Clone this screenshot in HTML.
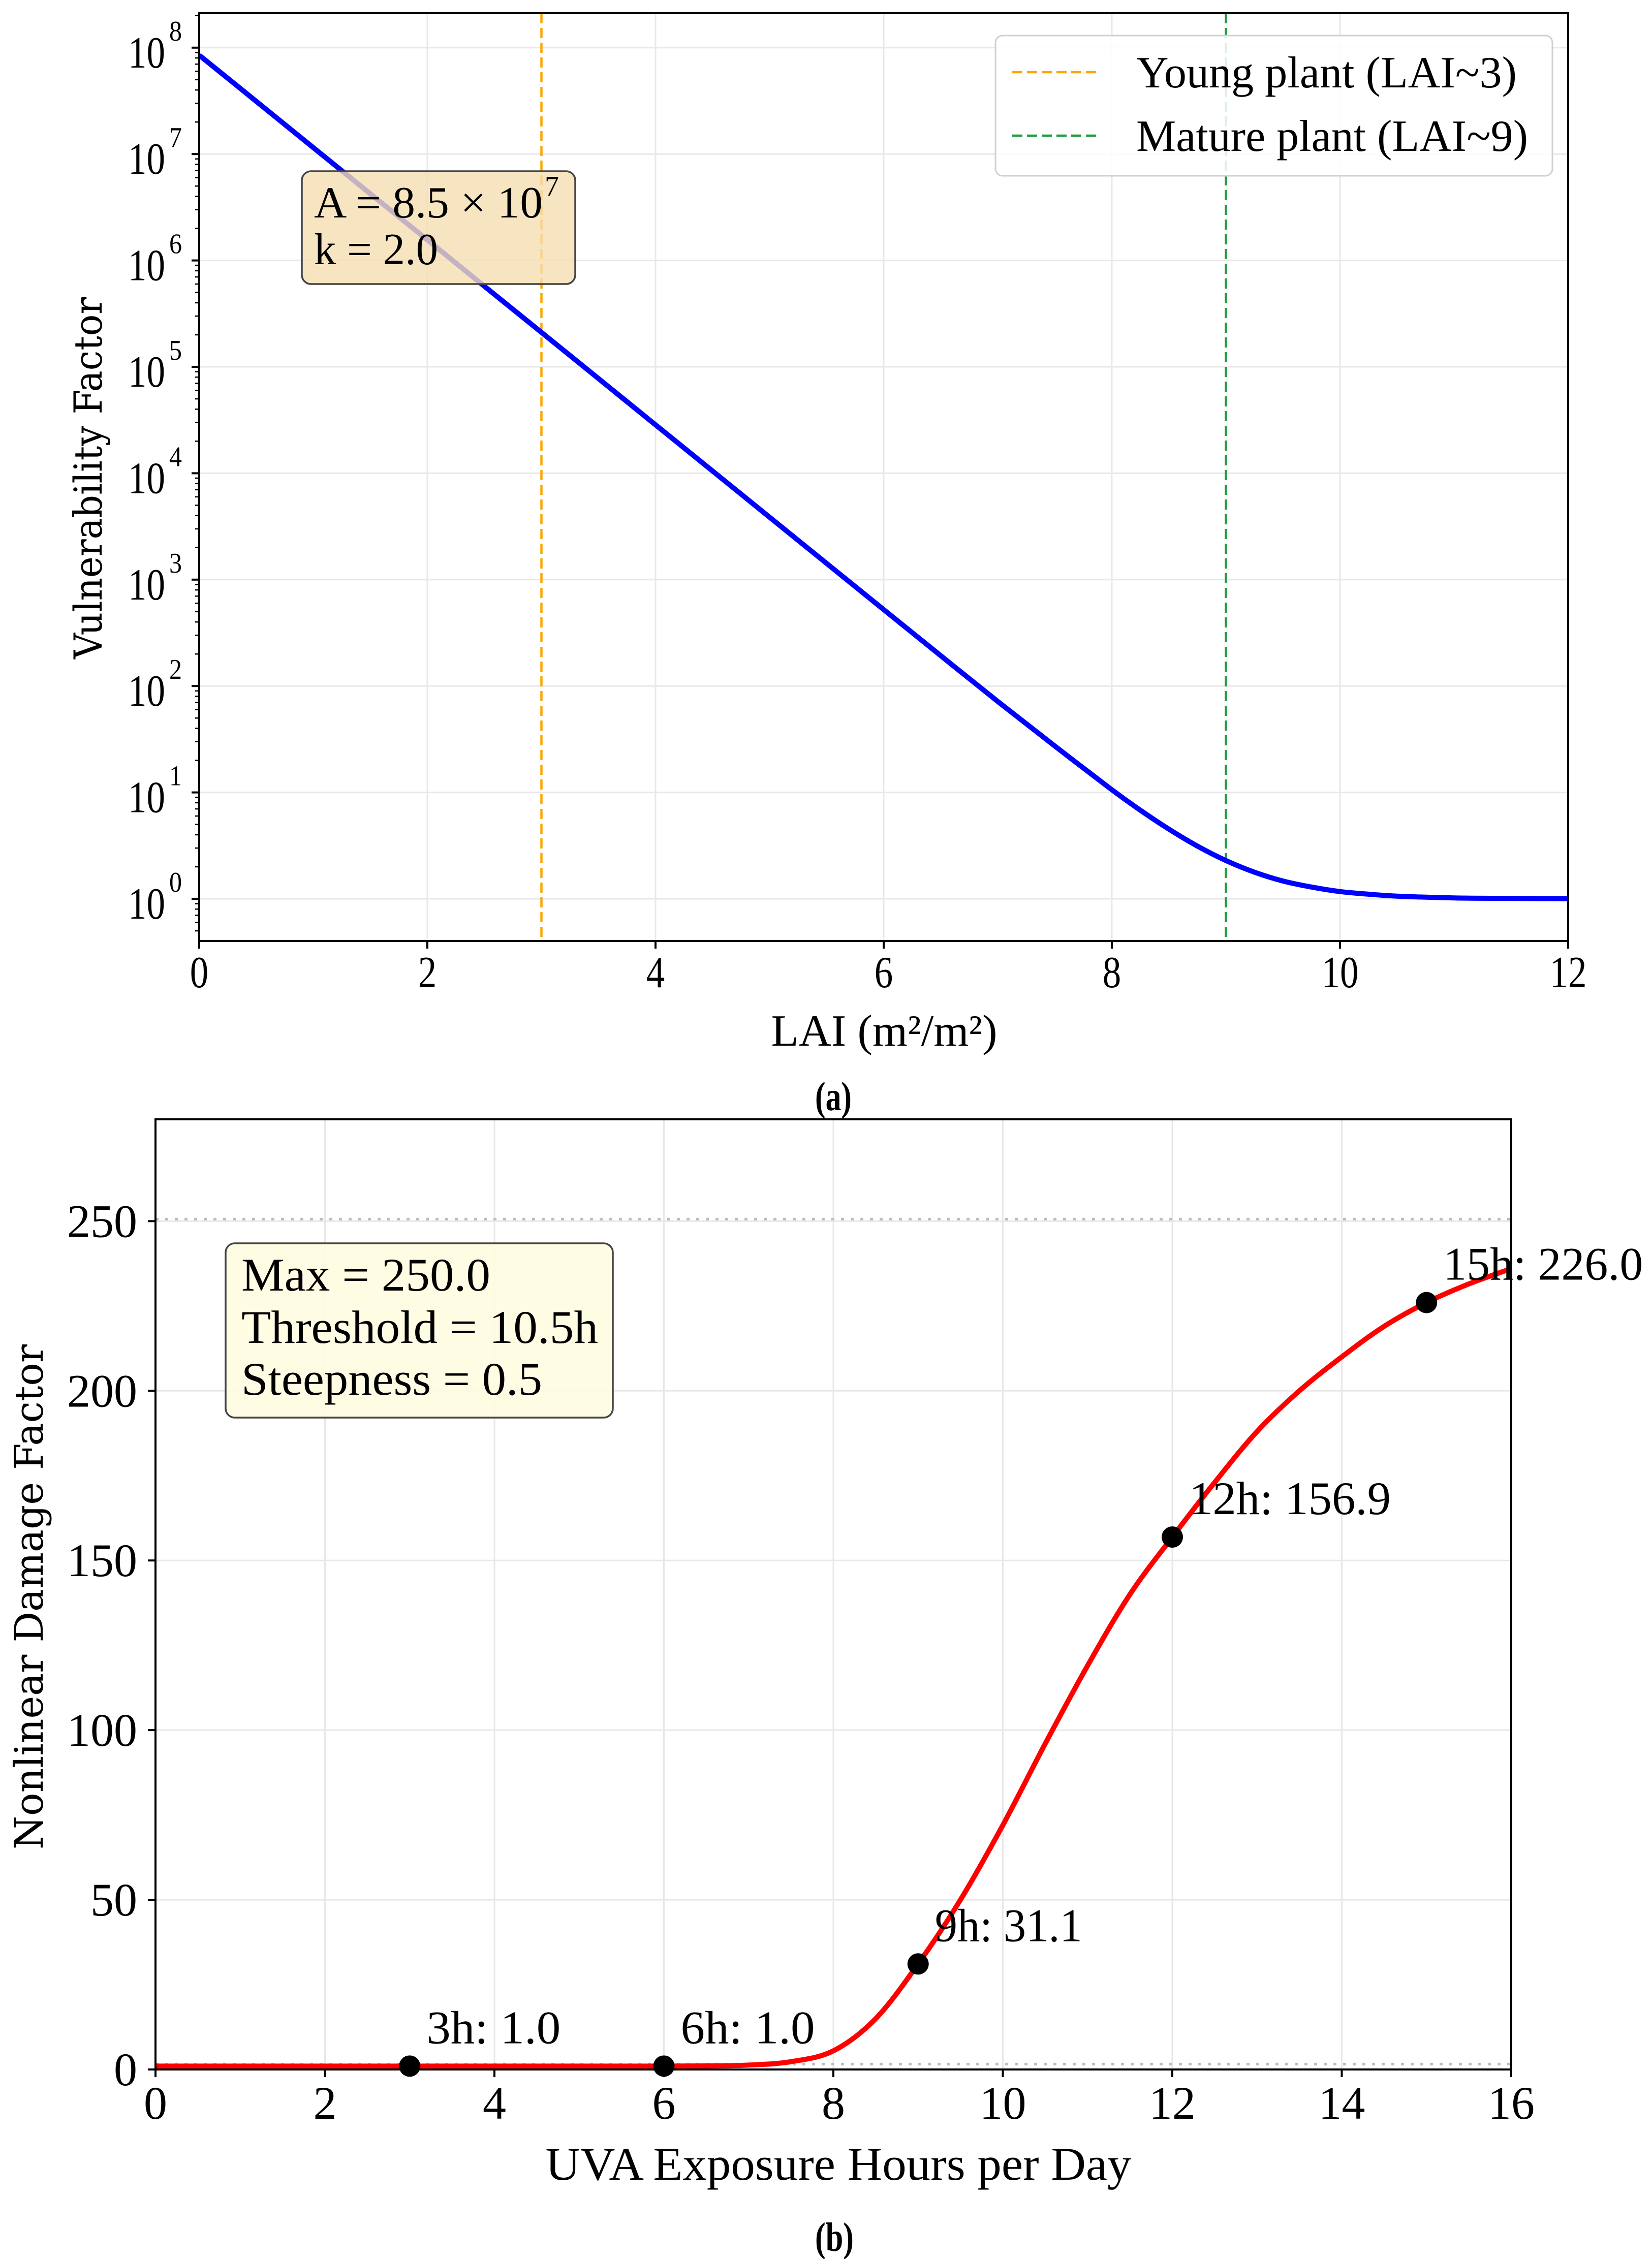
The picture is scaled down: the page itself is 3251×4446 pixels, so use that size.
<!DOCTYPE html>
<html><head><meta charset="utf-8"><style>
html,body{margin:0;padding:0;background:#fff;}
svg{display:block;}
text{font-family:"Liberation Serif","DejaVu Serif",serif;fill:#000;}
.dv{font-family:"DejaVu Serif","Liberation Serif",serif;}
</style></head>
<body>
<svg id="fig" width="3251" height="4446" viewBox="0 0 3251 4446" xmlns="http://www.w3.org/2000/svg"></svg>
<script>
// ---- Panel (a) data ----
const laiX = [0,0.5,1,1.5,2,2.5,3,3.5,4,4.5,5,5.5,6,6.5,7,7.5,8,8.25,8.5,8.75,9,9.25,9.5,9.75,10,10.25,10.5,11,11.5,12];
const vulnY = [8.5e7,3.13e7,1.15e7,4.23e6,1.56e6,5.72e5,2.11e5,7.76e4,2.85e4,1.05e4,3860,1420,523,193,71.6,27.3,10.6,6.8,4.52,3.13,2.29,1.78,1.47,1.29,1.17,1.106,1.06,1.02,1.009,1.003];
const laiTicks = [0,2,4,6,8,10,12];
const logTicks = [0,1,2,3,4,5,6,7,8];
const refLai = [3,9];
const refLabels = ['Young plant (LAI~3)','Mature plant (LAI~9)'];
// ---- Panel (b) data ----
const hoursX = [0,0.5,1,1.5,2,2.5,3,3.5,4,4.5,5,5.5,6,6.5,7,7.5,8,8.5,9,9.5,10,10.5,11,11.5,12,12.5,13,13.5,14,14.5,15,15.5,16];
const damageY = [1,1,1,1,1,1,1,1,1,1,1,1,1,1.05,1.3,2.3,5.5,15,31.1,50,72,96,119,140,156.9,173,188,200,210,219,226,231.5,236];
const markH = [3,6,9,12,15];
const markV = [1.0,1.0,31.1,156.9,226.0];
const markLabels = ['3h: 1.0','6h: 1.0','9h: 31.1','12h: 156.9','15h: 226.0'];
const hourTicks = [0,2,4,6,8,10,12,14,16];
const dmgTicks = [0,50,100,150,200,250];
const refDmg = [250,1];

const NS='http://www.w3.org/2000/svg';
const svg=document.getElementById('fig');
function mk(tag,attrs,parent){const e=document.createElementNS(NS,tag);for(const k in attrs)e.setAttribute(k,attrs[k]);(parent||svg).appendChild(e);return e;}
function tx(x,y,s,size,anchor,len,parent,cls){const e=mk('text',{x:x,y:y,'font-size':size,'text-anchor':anchor||'start'},parent);if(len){e.setAttribute('textLength',len);e.setAttribute('lengthAdjust','spacingAndGlyphs');}if(cls)e.setAttribute('class',cls);e.textContent=s;return e;}
function smoothPath(pts){let d='M'+pts[0][0]+','+pts[0][1];for(let i=0;i<pts.length-1;i++){const p0=pts[Math.max(i-1,0)],p1=pts[i],p2=pts[i+1],p3=pts[Math.min(i+2,pts.length-1)];const c1x=p1[0]+(p2[0]-p0[0])/6,c1y=p1[1]+(p2[1]-p0[1])/6,c2x=p2[0]-(p3[0]-p1[0])/6,c2y=p2[1]-(p3[1]-p1[1])/6;d+=' C'+c1x+','+c1y+' '+c2x+','+c2y+' '+p2[0]+','+p2[1];}return d;}

// ===== Panel A =====
const A={l:392,r:3086,t:26,b:1852};
const ax=v=>A.l+(v-0)/(12-0)*(A.r-A.l);
const ay=v=>1769-(Math.log10(v)-0)*209.4;
const gA=mk('g',{});


laiTicks.forEach(t=>{const l=mk('line',{x1:ax(t),x2:ax(t),y1:A.t,y2:A.b,stroke:'#e8e8e8','stroke-width':3},gA);});
logTicks.forEach(t=>{const l=mk('line',{x1:A.l,x2:A.r,y1:ay(Math.pow(10,t)),y2:ay(Math.pow(10,t)),stroke:'#e8e8e8','stroke-width':3},gA);});
const refCols=['#ffa500','#1f9e3c'];
refLai.forEach((v,i)=>{const l=mk('line',{x1:ax(v),x2:ax(v),y1:A.t,y2:A.b,stroke:refCols[i],'stroke-width':4.5,'stroke-dasharray':'20,9'},gA);});
const pa=mk('path',{d:smoothPath(laiX.map((x,i)=>[ax(x),ay(vulnY[i])])),fill:'none',stroke:'#0000ff','stroke-width':10,'stroke-linejoin':'round'},gA);


const bxA=mk('g',{},gA);


mk('rect',{x:594,y:337,width:538,height:222,rx:18,fill:'rgba(245,222,179,0.8)',stroke:'#444','stroke-width':3.5},bxA);
tx(618,428,'A = 8.5 × 10',88,'start',450,bxA);
tx(1072,385,'7',56,'start',28,bxA);
tx(618,520,'k = 2.0',88,'start',244,bxA);
const spA=mk('rect',{x:A.l,y:A.t,width:A.r-A.l,height:A.b-A.t,fill:'none',stroke:'#000','stroke-width':4},gA);


laiTicks.forEach(t=>{mk('line',{x1:ax(t),x2:ax(t),y1:A.b,y2:A.b+15,stroke:'#000','stroke-width':4},gA);
 const e=tx(ax(t),1943,String(t),88,'middle',36.5*String(t).length,gA);});
logTicks.forEach(t=>{const y=ay(Math.pow(10,t));mk('line',{x1:A.l-15,x2:A.l,y1:y,y2:y,stroke:'#000','stroke-width':4},gA);
 const e=tx(325,y+39,'10',88,'end',73,gA);
 tx(333,y-14,String(t),56,'start',25,gA);
 for(let m=2;m<=9;m++){const v=Math.pow(10,t)*m;if(ay(v)<A.t)continue;const yy=ay(v);mk('line',{x1:A.l-8,x2:A.l,y1:yy,y2:yy,stroke:'#000','stroke-width':2.5},gA);}
});
[0.5,0.6,0.7,0.8,0.9].forEach(v=>{const yy=ay(v);if(yy<A.b)mk('line',{x1:A.l-8,x2:A.l,y1:yy,y2:yy,stroke:'#000','stroke-width':2.5},gA);});
const lg=mk('g',{},gA);


mk('rect',{x:1959,y:70,width:1096,height:276,rx:14,fill:'rgba(255,255,255,0.85)',stroke:'#d0d0d0','stroke-width':3},lg);
refLabels.forEach((s,i)=>{const y=i?267:142;mk('line',{x1:1992,x2:2158,y1:y,y2:y,stroke:refCols[i],'stroke-width':4.5,'stroke-dasharray':'20,9'},lg);
 const e=tx(2236,y+30,s,88,'start',i?771:749,lg);});
const xla=tx(1740,2058,'LAI (m²/m²)',88,'middle',445,gA);


const yla=tx(0,0,'Vulnerability Factor',76,'middle',712,gA,'dv');
yla.setAttribute('transform','translate(200,941) rotate(-90)');


const capA=tx(1640,2185,'(a)',80,'middle',72,gA);
capA.setAttribute('font-weight','bold');



// ===== Panel B =====
const B={l:306,r:2974,t:2203,b:4073};
const bx=v=>B.l+(v-0)/(16-0)*(B.r-B.l);
const by=v=>B.b-(v-0)/(280-0)*(B.b-B.t);
const gB=mk('g',{});


hourTicks.forEach(t=>{const l=mk('line',{x1:bx(t),x2:bx(t),y1:B.t,y2:B.b,stroke:'#e8e8e8','stroke-width':3},gB);});
dmgTicks.forEach(t=>{const l=mk('line',{x1:B.l,x2:B.r,y1:by(t),y2:by(t),stroke:'#e8e8e8','stroke-width':3},gB);});
refDmg.forEach(v=>{const l=mk('line',{x1:B.l,x2:B.r,y1:by(v)-4,y2:by(v)-4,stroke:'#bdbdbd','stroke-width':5,'stroke-dasharray':'6,13'},gB);});
const pb=mk('path',{d:smoothPath(hoursX.map((x,i)=>[bx(x),by(damageY[i])])),fill:'none',stroke:'#ff0000','stroke-width':10,'stroke-linejoin':'round'},gB);


markH.forEach((h,i)=>{const c=mk('circle',{cx:bx(h),cy:by(markV[i]),r:21,fill:'#000'},gB);
 const lens=[264,264,290,397,393];
 const e=tx(bx(h)+33,by(markV[i])-45,markLabels[i],92,'start',lens[i],gB);});
const bxB=mk('g',{},gB);


mk('rect',{x:444,y:2447,width:762,height:343,rx:18,fill:'rgba(255,252,225,0.9)',stroke:'#444','stroke-width':3.5},bxB);
tx(475,2540,'Max = 250.0',92,'start',490,bxB);
tx(475,2643,'Threshold = 10.5h',92,'start',702,bxB);
tx(475,2745,'Steepness = 0.5',92,'start',592,bxB);
const spB=mk('rect',{x:B.l,y:B.t,width:B.r-B.l,height:B.b-B.t,fill:'none',stroke:'#000','stroke-width':4},gB);


hourTicks.forEach(t=>{mk('line',{x1:bx(t),x2:bx(t),y1:B.b,y2:B.b+15,stroke:'#000','stroke-width':4},gB);
 const e=tx(bx(t),4170,String(t),92,'middle',null,gB);});
dmgTicks.forEach(t=>{mk('line',{x1:B.l-15,x2:B.l,y1:by(t),y2:by(t),stroke:'#000','stroke-width':4},gB);
 const e=tx(270,by(t)+31,String(t),92,'end',null,gB);});
const xlb=tx(1650,4290,'UVA Exposure Hours per Day',92,'middle',1153,gB);


const ylb=tx(0,0,'Nonlinear Damage Factor',78,'middle',994,gB,'dv');
ylb.setAttribute('transform','translate(84,3143) rotate(-90)');


const capB=tx(1642,4430,'(b)',80,'middle',76,gB);
capB.setAttribute('font-weight','bold');


</script>
</body></html>
